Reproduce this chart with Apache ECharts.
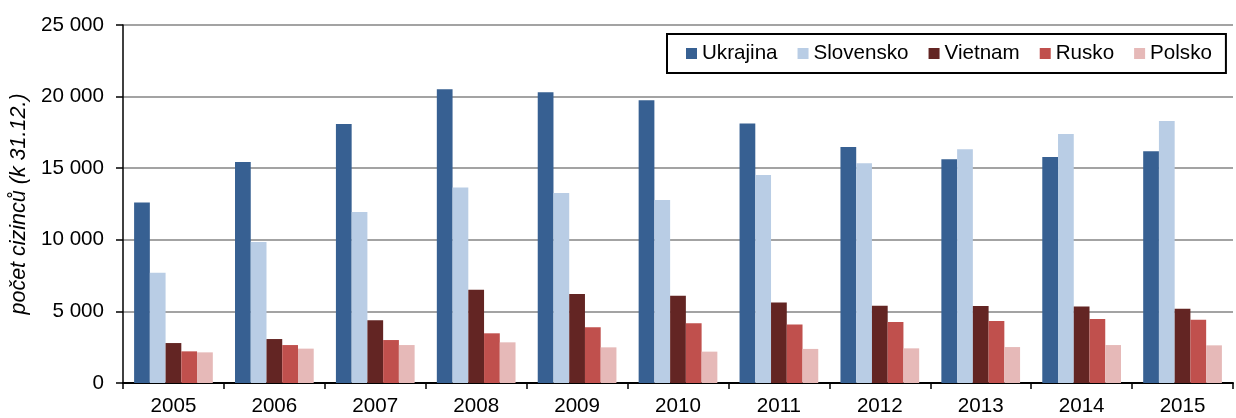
<!DOCTYPE html>
<html>
<head>
<meta charset="utf-8">
<script src="https://cdn.jsdelivr.net/npm/echarts@6/dist/echarts.min.js"></script>
<style>
    html, body { margin: 0; padding: 0; background: #fff; }
    #chart { width: 1236px; height: 418px; }
</style>
</head>
<body>
<div id="chart"></div>
<script>
// data
const years = ['2005', '2006', '2007', '2008', '2009', '2010', '2011', '2012', '2013', '2014', '2015'];
const ukrajina = [12600, 15430, 18090, 20510, 20300, 19740, 18130, 16480, 15620, 15780, 16180];
const slovensko = [7700, 9850, 11940, 13660, 13270, 12780, 14520, 15340, 16320, 17390, 18300];
const vietnam = [2790, 3070, 4380, 6520, 6220, 6100, 5630, 5400, 5380, 5350, 5190];
const rusko = [2210, 2650, 3000, 3470, 3890, 4170, 4080, 4260, 4330, 4470, 4420];
const polsko = [2140, 2400, 2650, 2840, 2490, 2190, 2380, 2420, 2510, 2650, 2630];

const font = "'Liberation Sans', Arial, sans-serif";

const fmt = (v) => String(v).replace(/\B(?=(\d{3})+(?!\d))/g, ' ');

const mkBar = (name, data, color) => {
    return {
        name: name,
        type: 'bar',
        data: data,
        barGap: '0%',
        barCategoryGap: '22%',
        itemStyle: {color: color},
        emphasis: {disabled: true}
    };
};

let chart = echarts.init(document.getElementById('chart'));
chart.setOption({
    animation: false,
    textStyle: {fontFamily: font},
    grid: {
        left: 123,
        right: 3,
        top: 25,
        bottom: 35
    },
    legend: {
        left: 667,
        top: 34,
        padding: [9, 14, 9, 19],
        borderColor: '#000',
        borderWidth: 2,
        itemWidth: 11,
        itemHeight: 11,
        itemGap: 20,
        icon: 'rect',
        textStyle: {fontSize: 20.6, color: '#000', fontFamily: font},
        data: ['Ukrajina', 'Slovensko', 'Vietnam', 'Rusko', 'Polsko']
    },
    xAxis: {
        type: 'category',
        data: years,
        axisLine: {lineStyle: {color: '#000', width: 2}},
        axisTick: {show: true, length: 6, lineStyle: {color: '#000', width: 1.5}},
        axisLabel: {fontSize: 20.6, color: '#000', margin: 13, fontFamily: font}
    },
    yAxis: {
        type: 'value',
        min: 0,
        max: 25000,
        interval: 5000,
        name: 'počet cizinců (k 31.12.)',
        nameLocation: 'middle',
        nameGap: 90,
        nameTextStyle: {fontSize: 21.5, fontStyle: 'italic', color: '#000', fontFamily: font},
        axisLine: {show: true, lineStyle: {color: '#000', width: 1.5}},
        axisTick: {show: true, length: 7, lineStyle: {color: '#000', width: 1.5}},
        axisLabel: {
            fontSize: 20.6,
            color: '#000',
            margin: 19,
            fontFamily: font,
            formatter: fmt
        },
        splitLine: {lineStyle: {color: '#858585', width: 1.5}}
    },
    series: [
        mkBar('Ukrajina', ukrajina, '#376092'),
        mkBar('Slovensko', slovensko, '#b9cde5'),
        mkBar('Vietnam', vietnam, '#632523'),
        mkBar('Rusko', rusko, '#c0504d'),
        mkBar('Polsko', polsko, '#e6b9b8')
    ]
});
</script>
</body>
</html>
